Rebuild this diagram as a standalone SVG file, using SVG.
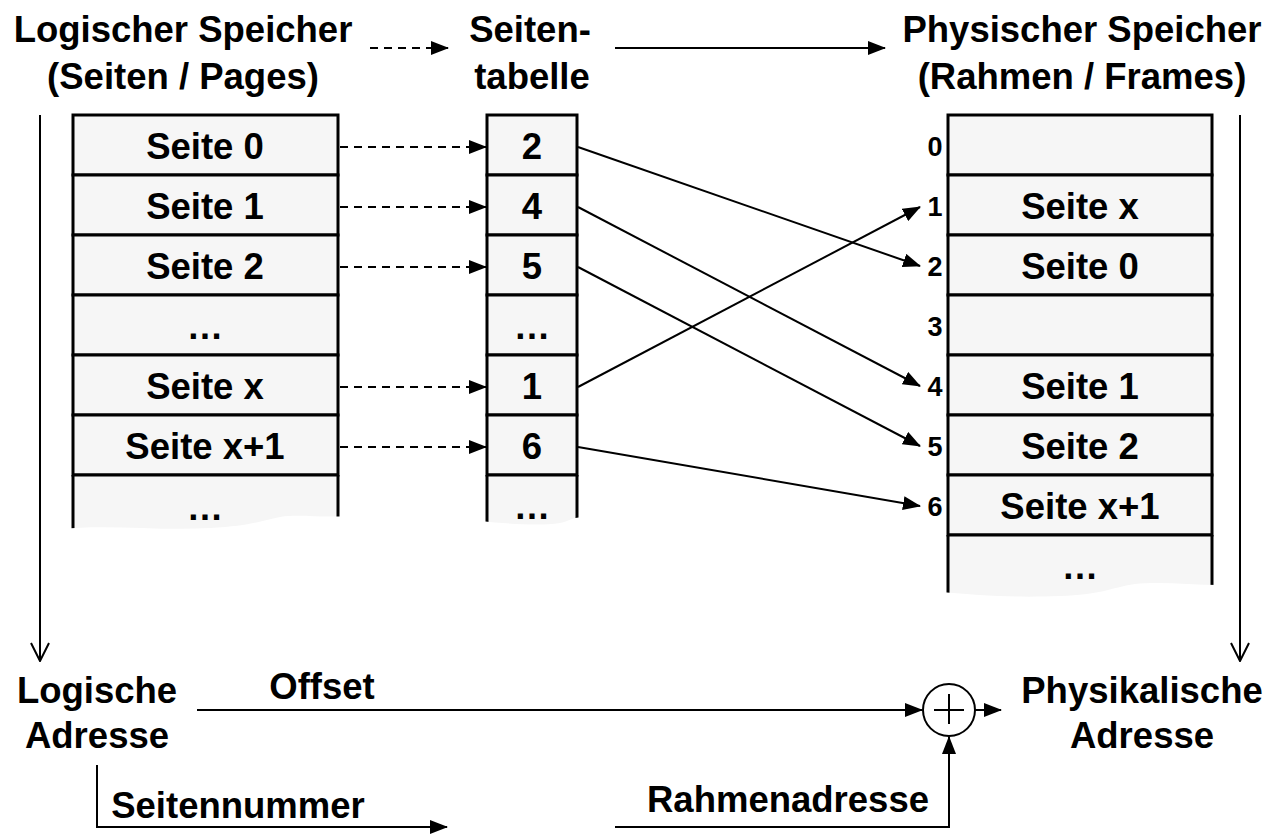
<svg xmlns="http://www.w3.org/2000/svg" width="1278" height="836" viewBox="0 0 1278 836">
  <style>
    text { font-family: "Liberation Sans", Arial, sans-serif; font-weight: bold; fill: #000; text-anchor: middle; }
    .big { font-size: 36.5px; }
    .num { font-size: 27px; }
    .cell { fill: #f6f6f6; stroke: #000; stroke-width: 3; }
    .side { stroke: #000; stroke-width: 3; fill: none; }
    .conn { stroke: #000; stroke-width: 2; fill: none; }
    .dash { stroke-dasharray: 8 6; }
    .tear { fill: #fff; stroke: none; }
  </style>
  <defs>
    <marker id="head" markerUnits="userSpaceOnUse" markerWidth="18" markerHeight="14" refX="17" refY="7" orient="auto">
      <path d="M0,0 L18,7 L0,14 Z" fill="#000"/>
    </marker>
    <marker id="vhead" markerUnits="userSpaceOnUse" markerWidth="20" markerHeight="20" refX="19" refY="10" orient="auto">
      <path d="M1,1 L19,10 L1,19" fill="none" stroke="#000" stroke-width="2"/>
    </marker>
  </defs>

  <!-- headings -->
  <g id="head-logical">
    <text class="big" x="183" y="42">Logischer Speicher</text>
    <text class="big" x="183" y="89">(Seiten / Pages)</text>
  </g>
  <g id="head-table">
    <text class="big" x="530" y="42">Seiten-</text>
    <text class="big" x="532" y="89">tabelle</text>
  </g>
  <g id="head-physical">
    <text class="big" x="1082" y="42">Physischer Speicher</text>
    <text class="big" x="1082" y="89">(Rahmen / Frames)</text>
  </g>

  <!-- logical memory: pages -->
  <g id="logical-memory">
    <rect class="cell" x="73" y="115" width="265" height="60"/>
    <rect class="cell" x="73" y="175" width="265" height="60"/>
    <rect class="cell" x="73" y="235" width="265" height="60"/>
    <rect class="cell" x="73" y="295" width="265" height="60"/>
    <rect class="cell" x="73" y="355" width="265" height="60"/>
    <rect class="cell" x="73" y="415" width="265" height="60"/>
    <rect x="73" y="475" width="265" height="70" fill="#f6f6f6"/>
    <line class="side" x1="73" y1="475" x2="73" y2="545"/>
    <line class="side" x1="338" y1="475" x2="338" y2="545"/>
    <line class="side" x1="73" y1="475" x2="338" y2="475"/>
    <path class="tear" d="M60,529 C110,524 160,531 210,528 C250,526 260,521 280,517 C300,514 320,518 350,516 L350,550 L60,550 Z"/>
    <text class="big" x="205" y="159">Seite 0</text>
    <text class="big" x="205" y="219">Seite 1</text>
    <text class="big" x="205" y="279">Seite 2</text>
    <text class="big" x="205" y="339">…</text>
    <text class="big" x="205" y="399">Seite x</text>
    <text class="big" x="205" y="459">Seite x+1</text>
    <text class="big" x="205" y="520">…</text>
  </g>

  <!-- page table -->
  <g id="page-table">
    <rect class="cell" x="487" y="115" width="90" height="60"/>
    <rect class="cell" x="487" y="175" width="90" height="60"/>
    <rect class="cell" x="487" y="235" width="90" height="60"/>
    <rect class="cell" x="487" y="295" width="90" height="60"/>
    <rect class="cell" x="487" y="355" width="90" height="60"/>
    <rect class="cell" x="487" y="415" width="90" height="60"/>
    <rect x="487" y="475" width="90" height="70" fill="#f6f6f6"/>
    <line class="side" x1="487" y1="475" x2="487" y2="545"/>
    <line class="side" x1="577" y1="475" x2="577" y2="545"/>
    <line class="side" x1="487" y1="475" x2="577" y2="475"/>
    <path class="tear" d="M480,521 C510,524 540,526 560,523 C570,521 572,517 585,517 L585,550 L480,550 Z"/>
    <text class="big" x="532" y="159">2</text>
    <text class="big" x="532" y="219">4</text>
    <text class="big" x="532" y="279">5</text>
    <text class="big" x="532" y="339">…</text>
    <text class="big" x="532" y="399">1</text>
    <text class="big" x="532" y="459">6</text>
    <text class="big" x="532" y="519">…</text>
  </g>

  <!-- physical memory: frames -->
  <g id="physical-memory">
    <rect class="cell" x="948" y="115" width="264" height="60"/>
    <rect class="cell" x="948" y="175" width="264" height="60"/>
    <rect class="cell" x="948" y="235" width="264" height="60"/>
    <rect class="cell" x="948" y="295" width="264" height="60"/>
    <rect class="cell" x="948" y="355" width="264" height="60"/>
    <rect class="cell" x="948" y="415" width="264" height="60"/>
    <rect class="cell" x="948" y="475" width="264" height="60"/>
    <rect x="948" y="535" width="264" height="70" fill="#f6f6f6"/>
    <line class="side" x1="948" y1="535" x2="948" y2="605"/>
    <line class="side" x1="1212" y1="535" x2="1212" y2="605"/>
    <line class="side" x1="948" y1="535" x2="1212" y2="535"/>
    <path class="tear" d="M940,592 C980,595 1010,598 1060,596 C1100,595 1110,588 1135,584 C1160,581 1190,585 1220,585 L1220,610 L940,610 Z"/>
    <text class="big" x="1080" y="219">Seite x</text>
    <text class="big" x="1080" y="279">Seite 0</text>
    <text class="big" x="1080" y="399">Seite 1</text>
    <text class="big" x="1080" y="459">Seite 2</text>
    <text class="big" x="1080" y="519">Seite x+1</text>
    <text class="big" x="1080" y="579">…</text>
    <text class="num" x="935" y="156">0</text>
    <text class="num" x="935" y="216">1</text>
    <text class="num" x="935" y="276">2</text>
    <text class="num" x="935" y="336">3</text>
    <text class="num" x="935" y="396">4</text>
    <text class="num" x="935" y="456">5</text>
    <text class="num" x="935" y="516">6</text>
  </g>

  <!-- address labels -->
  <g id="logical-address">
    <text class="big" x="97" y="703">Logische</text>
    <text class="big" x="97" y="748">Adresse</text>
  </g>
  <g id="physical-address">
    <text class="big" x="1142" y="703">Physikalische</text>
    <text class="big" x="1142" y="748">Adresse</text>
  </g>

  <!-- adder -->
  <g id="adder">
    <circle cx="949" cy="710" r="26" fill="#fff" stroke="#000" stroke-width="2"/>
    <line class="conn" x1="934" y1="710" x2="964" y2="710"/>
    <line class="conn" x1="949" y1="694" x2="949" y2="724"/>
  </g>

  <!-- connectors -->
  <g id="connectors">
    <line class="conn dash" x1="370" y1="48" x2="448" y2="48" marker-end="url(#head)"/>
    <line class="conn" x1="615" y1="48" x2="885" y2="48" marker-end="url(#head)"/>

    <line class="conn dash" x1="340" y1="147" x2="486" y2="147" marker-end="url(#head)"/>
    <line class="conn dash" x1="340" y1="207" x2="486" y2="207" marker-end="url(#head)"/>
    <line class="conn dash" x1="340" y1="267" x2="486" y2="267" marker-end="url(#head)"/>
    <line class="conn dash" x1="340" y1="387" x2="486" y2="387" marker-end="url(#head)"/>
    <line class="conn dash" x1="340" y1="447" x2="486" y2="447" marker-end="url(#head)"/>

    <line class="conn" x1="578" y1="147" x2="920" y2="266" marker-end="url(#head)"/>
    <line class="conn" x1="578" y1="207" x2="920" y2="386" marker-end="url(#head)"/>
    <line class="conn" x1="578" y1="267" x2="920" y2="446" marker-end="url(#head)"/>
    <line class="conn" x1="578" y1="387" x2="920" y2="207" marker-end="url(#head)"/>
    <line class="conn" x1="578" y1="447" x2="920" y2="506" marker-end="url(#head)"/>

    <line class="conn" x1="40" y1="115" x2="40" y2="661" marker-end="url(#vhead)"/>
    <line class="conn" x1="1240" y1="115" x2="1240" y2="661" marker-end="url(#vhead)"/>

    <line class="conn" x1="197" y1="710" x2="922" y2="710" marker-end="url(#head)"/>
    <line class="conn" x1="975" y1="710" x2="1001" y2="710" marker-end="url(#head)"/>
    <polyline class="conn" points="97,765 97,827 447,827" marker-end="url(#head)"/>
    <polyline class="conn" points="615,827 949,827 949,737" marker-end="url(#head)"/>

    <text class="big" x="322" y="699">Offset</text>
    <text class="big" x="238" y="818">Seitennummer</text>
    <text class="big" x="788" y="812">Rahmenadresse</text>
  </g>
</svg>
